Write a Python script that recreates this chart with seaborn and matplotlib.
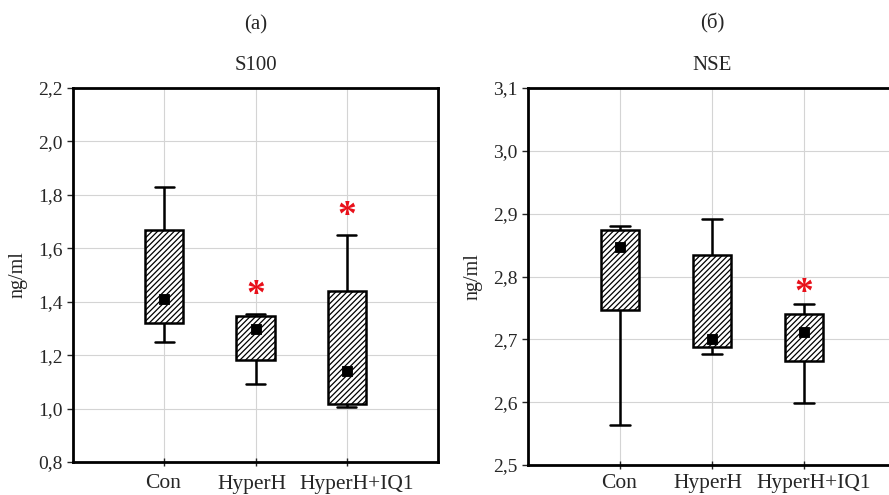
import numpy as np
import pandas as pd
import matplotlib
import matplotlib.pyplot as plt
from matplotlib.ticker import FuncFormatter, MultipleLocator
from matplotlib.transforms import ScaledTranslation
import seaborn as sns
matplotlib.use('Agg')

groups = ["Con", "HyperH", "HyperH+IQ1"]

# S100 (ng/ml): min, lower quartile, median, upper quartile, max
s100_min = [1.25, 1.092, 1.005]
s100_q1 = [1.322, 1.182, 1.016]
s100_med = [1.41, 1.297, 1.142]
s100_q3 = [1.669, 1.345, 1.439]
s100_max = [1.831, 1.354, 1.649]
s100_stars = [None, 1.45, 1.746]

# NSE (ng/ml)
nse_min = [2.564, 2.677, 2.598]
nse_q1 = [2.746, 2.688, 2.666]
nse_med = [2.847, 2.70, 2.711]
nse_q3 = [2.874, 2.834, 2.740]
nse_max = [2.881, 2.892, 2.757]
nse_stars = [None, None, 2.784]


def five_number_frame(mins, q1, med, q3, maxs):
    # five sorted points per group -> quartiles of linear interpolation hit them exactly
    rows = []
    for g, a, b, c, d, e in zip(groups, mins, q1, med, q3, maxs):
        for v in (a, b, c, d, e):
            rows.append({"group": g, "value": v})
    return pd.DataFrame(rows)


sns.set_style("white")
plt.rcParams['font.family'] = ['Liberation Serif', 'DejaVu Serif']
plt.rcParams['hatch.linewidth'] = 0.9
plt.rcParams['hatch.color'] = 'black'

fig = plt.figure(figsize=(8.89, 4.95), dpi=100)
ax1 = fig.add_axes([73 / 889, 33 / 495, 365 / 889, 374 / 495])
ax2 = fig.add_axes([528 / 889, 30 / 495, 368 / 889, 377 / 495])

comma = FuncFormatter(lambda v, p: f"{v:.1f}".replace(".", ","))


def draw_panel(ax, mins, q1, med, q3, maxs, stars, ylim, title, letter, xpad):
    df = five_number_frame(mins, q1, med, q3, maxs)
    sns.boxplot(data=df, x="group", y="value", order=groups, ax=ax,
                whis=(0, 100), width=0.42, color="white", linecolor="black",
                linewidth=1.8, showfliers=False,
                medianprops={"visible": False})
    for patch in ax.patches:
        patch.set_facecolor("white")
        patch.set_edgecolor("black")
        patch.set_hatch("//////")
    medians = pd.DataFrame({"group": groups, "value": med})
    sns.scatterplot(data=medians, x="group", y="value", ax=ax, marker="s",
                    s=62, color="black", edgecolor="black", zorder=5)
    for i, st in enumerate(stars):
        if st is not None:
            ax.annotate("*", (i, st), xytext=(0, -5), textcoords="offset points",
                        color="#e8101a", fontsize=27, fontweight="bold",
                        ha="center", va="center", zorder=6)
    ax.set_xlim(-1, 3)
    ax.set_ylim(*ylim)
    ax.yaxis.set_major_formatter(comma)
    ax.grid(True, color="#d4d4d4", linewidth=0.8)
    ax.set_axisbelow(True)
    for sp in ax.spines.values():
        sp.set_color("black")
        sp.set_linewidth(2)
    ax.tick_params(axis="y", direction="out", length=4, width=1, labelsize=14, left=True)
    ax.tick_params(axis="x", direction="inout", length=6, width=1, labelsize=15.5, bottom=True, pad=xpad)
    # labels in the original sit a little off their ticks
    for lab, dx in zip(ax.get_xticklabels(), [-1, -4, 10]):
        lab.set_transform(lab.get_transform() + ScaledTranslation(dx / 100, 0, fig.dpi_scale_trans))
    ax.set_xlabel("")
    ax.set_ylabel("ng/ml", fontsize=14.5)
    ax.yaxis.set_label_coords(-0.125, 0.5)
    ax.set_title(title, fontsize=15, pad=13)
    ax.text(0.5, 1.17, letter, transform=ax.transAxes, ha="center", va="center", fontsize=15)


draw_panel(ax1, s100_min, s100_q1, s100_med, s100_q3, s100_max, s100_stars,
           (0.8, 2.2), "S100", "(a)", 6)
ax1.yaxis.set_major_locator(MultipleLocator(0.2))
draw_panel(ax2, nse_min, nse_q1, nse_med, nse_q3, nse_max, nse_stars,
           (2.5, 3.1), "NSE", "(б)", 3.5)
ax2.yaxis.set_major_locator(MultipleLocator(0.1))
ax2.set_ylim(2.5, 3.1)

fig.savefig("out.png", dpi=100)
